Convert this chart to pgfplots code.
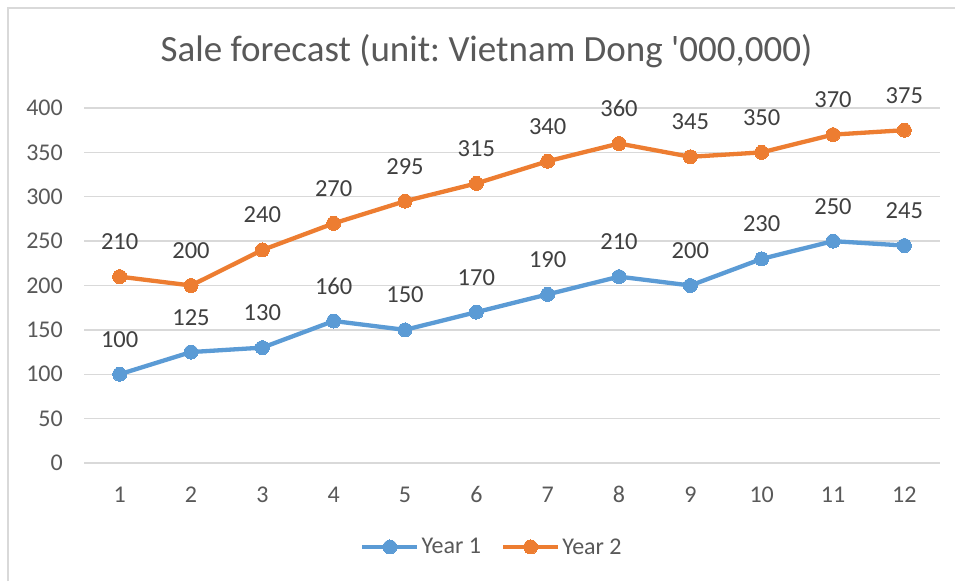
\documentclass[border=0pt]{standalone}
\usepackage{pgfplots}
\pgfplotsset{compat=1.18}
\usepackage{fontspec}
\setmainfont{Carlito}
\definecolor{sblue}{HTML}{5B9BD5}
\definecolor{sorange}{HTML}{ED7D31}
\definecolor{gridc}{HTML}{D9D9D9}
\definecolor{txt}{HTML}{595959}
\definecolor{lbl}{HTML}{404040}
\begin{document}
\frenchspacing
\begin{tikzpicture}
\path[use as bounding box] (0pt,0pt) rectangle (955pt,581pt);
\fill[white] (0pt,0pt) rectangle (955pt,581pt);
\draw[gridc, line width=2.5pt] (8pt,0pt) -- (8pt,573pt) -- (955pt,573pt);
\node[txt, font=\fontsize{37}{42}\selectfont, anchor=base, inner sep=0pt] at (486.5pt,519pt) {Sale forecast (unit: Vietnam Dong \textquotesingle000,000)};
\begin{axis}[
  at={(84pt,118pt)}, anchor=south west,
  scale only axis, width=856pt, height=355pt,
  xmin=0.5, xmax=12.5, ymin=0, ymax=400,
  xtick={1,...,12}, ytick={0,50,...,400},
  axis line style={draw=none},
  major tick length=0pt,
  ymajorgrids, grid style={gridc, line width=1.3pt},
  /pgf/number format/assume math mode=true,
  tick label style={txt, font=\fontsize{24}{28}\selectfont, inner sep=0pt},
  xticklabel style={anchor=base, yshift=-39pt},
  yticklabel style={anchor=east, xshift=-21pt},
  every axis plot/.append style={line width=4.3pt, mark=*, mark size=7pt},
  nodes near coords,
  every node near coord/.append style={lbl, font=\fontsize{24.5}{28}\selectfont, anchor=base, yshift=27pt, inner sep=0pt},
  legend columns=2,
  legend style={at={(0.4766,-0.2366)}, anchor=center, draw=none, fill=none,
    font=\fontsize{24}{28}\selectfont, text=txt,
    /tikz/every even column/.append style={column sep=18pt},
    nodes={inner sep=2pt}},
  legend image code/.code={\draw[#1, mark repeat=2, mark phase=2] plot coordinates {(0pt,0pt) (27.5pt,0pt) (55pt,0pt)};},
  clip=false,
]
\addplot[sblue, mark options={fill=sblue, draw=sblue, line width=0pt}] coordinates {
(1,100) (2,125) (3,130) (4,160) (5,150) (6,170) (7,190) (8,210) (9,200) (10,230) (11,250) (12,245)};
\addlegendentry{Year 1}
\addplot[sorange, mark options={fill=sorange, draw=sorange, line width=0pt}] coordinates {
(1,210) (2,200) (3,240) (4,270) (5,295) (6,315) (7,340) (8,360) (9,345) (10,350) (11,370) (12,375)};
\addlegendentry{Year 2}
\end{axis}
\end{tikzpicture}
\end{document}
